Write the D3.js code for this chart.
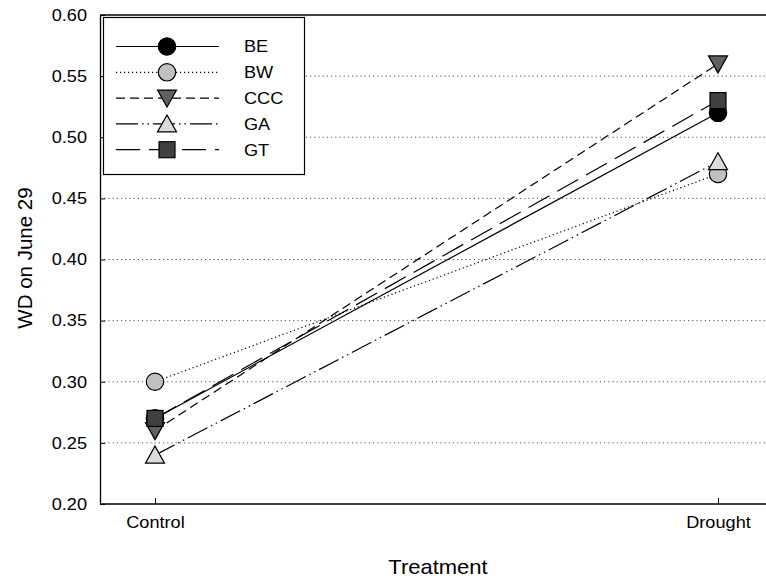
<!DOCTYPE html>
<html>
<head>
<meta charset="utf-8">
<script src="https://cdn.jsdelivr.net/npm/d3@7/dist/d3.min.js"></script>
<style>
  html, body { margin: 0; padding: 0; background: #fff; }
  text { font-family: "Liberation Sans", Arial, sans-serif; }
</style>
</head>
<body>
<svg id="chart" width="766" height="580"></svg>
<script>
// Treatment groups on the x axis
const treatments = ["Control", "Drought"];
// Genotype series
const seriesNames = ["BE", "BW", "CCC", "GA", "GT"];
// WD values per series, in treatment order
const valuesBE  = [0.27, 0.52];
const valuesBW  = [0.30, 0.47];
const valuesCCC = [0.26, 0.56];
const valuesGA  = [0.24, 0.48];
const valuesGT  = [0.27, 0.53];
// Y tick labels
const yTicks = [0.20, 0.25, 0.30, 0.35, 0.40, 0.45, 0.50, 0.55, 0.60];

const seriesValues = [valuesBE, valuesBW, valuesCCC, valuesGA, valuesGT];

const styles = {
  BE:  { shape: "circle",   fill: "#000000", dash: null },
  BW:  { shape: "circle",   fill: "#c0c0c0", dash: "1.2,2.8" },
  CCC: { shape: "triDown",  fill: "#606060", dash: "9,5" },
  GA:  { shape: "triUp",    fill: "#dcdcdc", dash: "22,4,1.5,4,1.5,4" },
  GT:  { shape: "square",   fill: "#404040", dash: "24,9" }
};

const svg = d3.select("#chart");
const plotLeft = 100, plotTop = 15, plotBottom = 504, plotRight = 780;
const TXT = 16.5, WIDEN = 1.1;

// widen a text element horizontally around its own anchor point
function widen(sel) {
  sel.each(function () {
    const t = d3.select(this);
    const ax = +t.attr("x") || 0;
    t.attr("transform", `translate(${ax},0) scale(${WIDEN},1) translate(${-ax},0)`);
  });
}

const x = d3.scalePoint().domain(treatments).range([155, 718]);
const y = d3.scaleLinear().domain([0.20, 0.60]).range([plotBottom, plotTop]);

// dotted grid lines
svg.append("g").selectAll("line")
  .data(yTicks.filter(t => t > 0.2001 && t < 0.5999))
  .join("line")
  .attr("x1", plotLeft).attr("x2", 766)
  .attr("y1", d => y(d)).attr("y2", d => y(d))
  .attr("stroke", "#555").attr("stroke-width", 1)
  .attr("stroke-dasharray", "1.2,3");

// y axis with inward ticks
const yAxis = d3.axisLeft(y).tickValues(yTicks).tickFormat(d3.format(".2f"))
  .tickSizeInner(-5).tickSizeOuter(0).tickPadding(13);
const gy = svg.append("g").attr("transform", `translate(${plotLeft},0)`).call(yAxis);
gy.select(".domain").attr("stroke", "#000").attr("stroke-width", 1.3);
gy.selectAll(".tick line").attr("stroke", "#000");
gy.selectAll(".tick text").attr("font-size", TXT).attr("fill", "#000")
  .attr("font-family", "Liberation Sans, Arial, sans-serif").call(widen);

// x axis with inward ticks
const xAxis = d3.axisBottom(x).tickSizeInner(-6).tickSizeOuter(0).tickPadding(12);
const gx = svg.append("g").attr("transform", `translate(0,${plotBottom})`).call(xAxis);
gx.select(".domain").attr("d", `M${plotLeft},0H${plotRight}`).attr("stroke", "#000").attr("stroke-width", 1.3);
gx.selectAll(".tick line").attr("stroke", "#000");
gx.selectAll(".tick text").attr("font-size", TXT).attr("fill", "#000")
  .attr("font-family", "Liberation Sans, Arial, sans-serif").call(widen);

// top frame line
svg.append("line").attr("x1", plotLeft).attr("x2", plotRight).attr("y1", plotTop).attr("y2", plotTop)
  .attr("stroke", "#000").attr("stroke-width", 1.3);

// axis titles
svg.append("text").attr("x", 438).attr("y", 574).attr("text-anchor", "middle")
  .attr("font-size", 20).text("Treatment").call(widen);
svg.append("text").attr("transform", "translate(32,258) rotate(-90)")
  .attr("text-anchor", "middle").attr("font-size", 20.5).text("WD on June 29");

function marker(g, shape, fill, cx, cy) {
  let el;
  if (shape === "circle") {
    el = g.append("circle").attr("cx", cx).attr("cy", cy).attr("r", 8.7);
  } else if (shape === "square") {
    el = g.append("rect").attr("x", cx - 8).attr("y", cy - 8).attr("width", 16).attr("height", 16);
  } else if (shape === "triDown") {
    el = g.append("path").attr("d", `M${cx - 9.5},${cy - 8}L${cx + 9.5},${cy - 8}L${cx},${cy + 9}Z`);
  } else {
    el = g.append("path").attr("d", `M${cx - 9.5},${cy + 8}L${cx + 9.5},${cy + 8}L${cx},${cy - 9}Z`);
  }
  el.attr("fill", fill).attr("stroke", "#000").attr("stroke-width", 1.2);
}

const line = d3.line().x((d, i) => x(treatments[i])).y(d => y(d));

// series lines
const linesG = svg.append("g");
seriesNames.forEach((name, k) => {
  linesG.append("path").datum(seriesValues[k]).attr("d", line)
    .attr("fill", "none").attr("stroke", "#000").attr("stroke-width", 1.2)
    .attr("stroke-dasharray", styles[name].dash);
});

// series markers
const marksG = svg.append("g");
seriesNames.forEach((name, k) => {
  seriesValues[k].forEach((v, i) => marker(marksG, styles[name].shape, styles[name].fill, x(treatments[i]), y(v)));
});

// legend
const lg = svg.append("g");
lg.append("rect").attr("x", 103.5).attr("y", 17.5).attr("width", 201).attr("height", 157)
  .attr("fill", "#fff").attr("stroke", "#000").attr("stroke-width", 1.2);
seriesNames.forEach((name, k) => {
  const cy = 46.5 + k * 25.8;
  lg.append("line").attr("x1", 116).attr("x2", 219).attr("y1", cy).attr("y2", cy)
    .attr("stroke", "#000").attr("stroke-width", 1.2).attr("stroke-dasharray", styles[name].dash);
  marker(lg, styles[name].shape, styles[name].fill, 167, cy);
  lg.append("text").attr("x", 244).attr("y", cy + 6).attr("font-size", TXT).text(name).call(widen);
});
</script>
</body>
</html>
